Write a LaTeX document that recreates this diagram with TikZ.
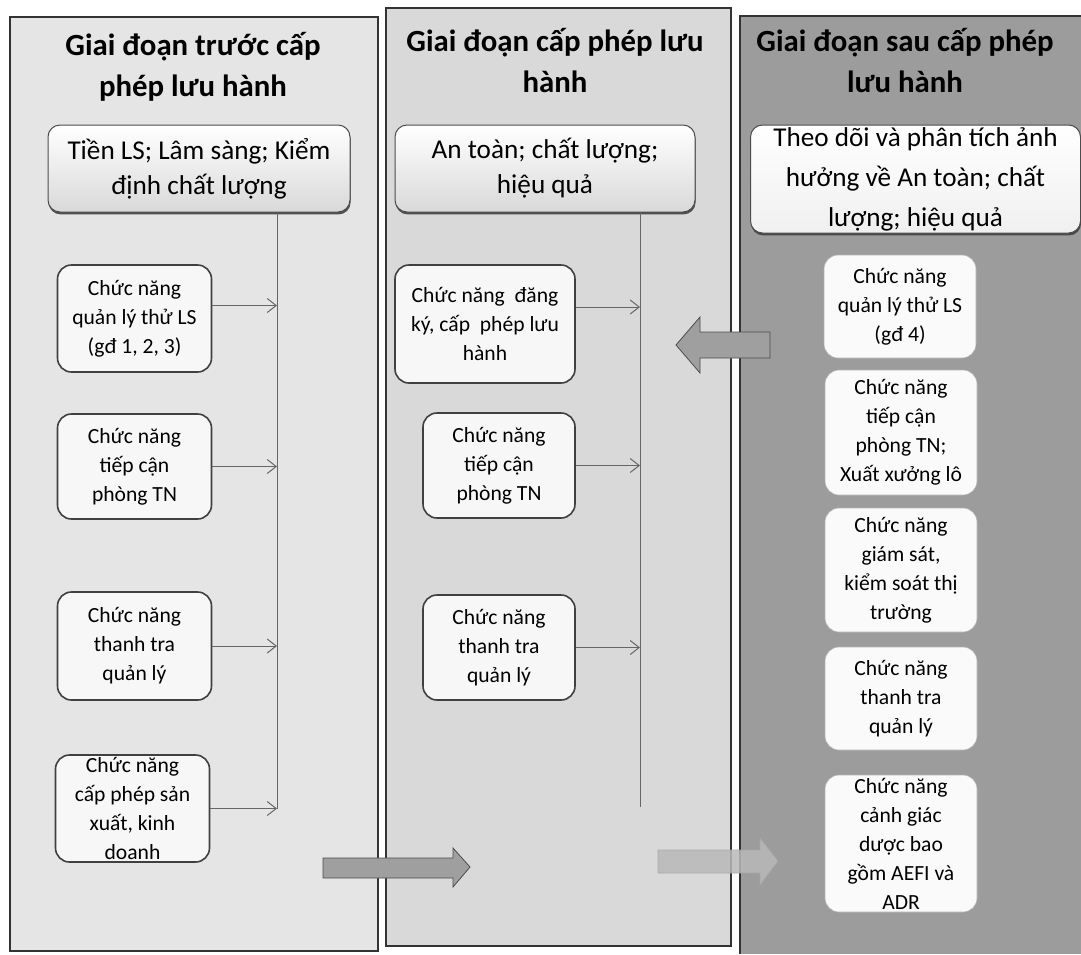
\documentclass[tikz,border=0pt]{standalone}
\usepackage{fontspec}
\setmainfont{Carlito}
\usetikzlibrary{shadows,arrows.meta}

\definecolor{leftgray}{gray}{0.90}
\definecolor{midgray}{gray}{0.85}
\definecolor{rightgray}{gray}{0.61}
\definecolor{boxwhite}{gray}{0.97}

\tikzset{
  panel/.style={draw=black!80, line width=0.6pt},
  title/.style={font=\fontsize{15.4}{20.5}\selectfont\bfseries, align=center},
  headbox/.style={draw=black!70, line width=0.5pt, rounded corners=6pt, align=center,
    font=\fontsize{13.6}{17.5}\selectfont, top color=white, bottom color=gray!30,
    drop shadow={shadow xshift=0.3pt, shadow yshift=-1.2pt, fill=black!75, opacity=0.9},
    inner sep=1pt},
  funcbox/.style={draw=black!75, line width=0.8pt, rounded corners=7pt, fill=boxwhite,
    align=center, font=\fontsize{10.8}{14.5}\selectfont, inner sep=1pt,
    minimum width=77pt},
  rbox/.style={funcbox, draw=gray!60, line width=0.3pt, fill=white!96!gray},
  link/.style={-{Straight Barb[length=4.5pt,width=7pt]}, draw=black!60, line width=0.5pt},
  bus/.style={draw=black!60, line width=0.5pt},
  bigarrow/.style={fill=gray!75, draw=gray!60!black, line width=0.4pt}
}

\begin{document}
\begin{tikzpicture}[x=0.5pt,y=-0.5pt]
    \useasboundingbox (0,0) rectangle (1081,954);
    \fill[white] (0,0) rectangle (1081,954);

    % panels
    \draw[panel,fill=leftgray] (10,17) rectangle (378,951);
    \draw[panel,fill=midgray] (386,8) rectangle (731,946);
    \fill[rightgray] (740,16) rectangle (1081,954);
    \draw[panel] (740,954) -- (740,16) -- (1081,16);

    % titles
    \node[title] (ltitle) at (193,67) {Giai đoạn trước cấp\\phép lưu hành};
    \node[title] (mtitle) at (555,61) {Giai đoạn cấp phép lưu\\hành};
    \node[title] (rtitle) at (905,61) {Giai đoạn sau cấp phép\\lưu hành};

    % aspects
    \node[headbox, minimum width=151pt, minimum height=43.5pt] (lhead) at (199,168.5)
        {Tiền LS; Lâm sàng; Kiểm\\định chất lượng};
    \node[headbox, minimum width=150pt, minimum height=43.5pt] (mhead) at (545,168.5)
        {An toàn; chất lượng;\\hiệu quả};
    \node[headbox, top color=white, bottom color=gray!12,
          font=\fontsize{13.6}{20}\selectfont,
          minimum width=165pt, minimum height=54pt] (rhead) at (915.5,179)
        {Theo dõi và phân tích ảnh\\hưởng về An toàn; chất\\lượng; hiệu quả};

    % big arrows
    \filldraw[bigarrow] (770,332) -- (700,332) -- (700,317) -- (676,345)
        -- (700,373) -- (700,358) -- (770,358) -- cycle;
    \filldraw[bigarrow] (323,858) -- (453,858) -- (453,848) -- (470,867)
        -- (453,887) -- (453,878) -- (323,878) -- cycle;
    \filldraw[bigarrow, fill=gray!55, draw=gray!70, opacity=0.85] (658,850) -- (760,850)
        -- (760,838) -- (778,861) -- (760,885) -- (760,873) -- (658,873) -- cycle;

    % before licensing
    \node[funcbox, minimum height=53.5pt] (lcli) at (134.5,318.5)
        {Chức năng\\quản lý thử LS\\(gđ 1, 2, 3)};
    \node[funcbox, minimum height=52.5pt] (llab) at (134.5,466.5)
        {Chức năng\\tiếp cận\\phòng TN};
    \node[funcbox, minimum height=54pt] (linsp) at (134.5,646)
        {Chức năng\\thanh tra\\quản lý};
    \node[funcbox, inner ysep=0pt, minimum height=53.5pt] (lprod) at (132.5,808.5)
        {Chức năng\\cấp phép sản\\xuất, kinh\\doanh};

    \coordinate (lbus) at (277,0);
    \draw[bus] (lbus |- lhead.south) -- (lbus |- lprod.east);
    \draw[link] ([yshift=6.5pt]lcli.east) -- ([yshift=6.5pt]lcli.east -| lbus);
    \draw[link] (llab.east) -- (llab.east -| lbus);
    \draw[link] (linsp.east) -- (linsp.east -| lbus);
    \draw[link] (lprod.east) -- (lprod.east -| lbus);

    % licensing
    \node[funcbox, minimum width=90pt, minimum height=59pt] (mreg) at (485,324)
        {Chức năng\ \ đăng\\ký, cấp\ \ phép lưu\\hành};
    \node[funcbox, minimum width=76pt, minimum height=52.5pt] (mlab) at (499,465.5)
        {Chức năng\\tiếp cận\\phòng TN};
    \node[funcbox, minimum width=76pt, minimum height=52.5pt] (minsp) at (499,647.5)
        {Chức năng\\thanh tra\\quản lý};

    \coordinate (mbus) at (640,0);
    \coordinate (mend) at (640,807);
    \draw[bus] (mbus |- mhead.south) -- (mend);
    \draw[link] ([yshift=8.5pt]mreg.east) -- ([yshift=8.5pt]mreg.east -| mbus);
    \draw[link] (mlab.east) -- (mlab.east -| mbus);
    \draw[link] (minsp.east) -- (minsp.east -| mbus);

    % after licensing
    \node[rbox, minimum width=76pt, minimum height=51.5pt] (rcli) at (900,306.5)
        {Chức năng\\quản lý thử LS\\(gđ 4)};
    \node[rbox, minimum width=76pt, minimum height=62.5pt] (rlab) at (901,432.5)
        {Chức năng\\tiếp cận\\phòng TN;\\Xuất xưởng lô};
    \node[rbox, minimum width=76pt, minimum height=62pt] (rmark) at (901,570)
        {Chức năng\\giám sát,\\kiểm soát thị\\trường};
    \node[rbox, minimum width=76pt, minimum height=51.5pt] (rinsp) at (901,698.5)
        {Chức năng\\thanh tra\\quản lý};
    \node[rbox, inner ysep=0pt, minimum width=76pt, minimum height=68.5pt] (rvig) at (901,843.5)
        {Chức năng\\cảnh giác\\dược bao\\gồm AEFI và\\ADR};

\end{tikzpicture}
\end{document}
